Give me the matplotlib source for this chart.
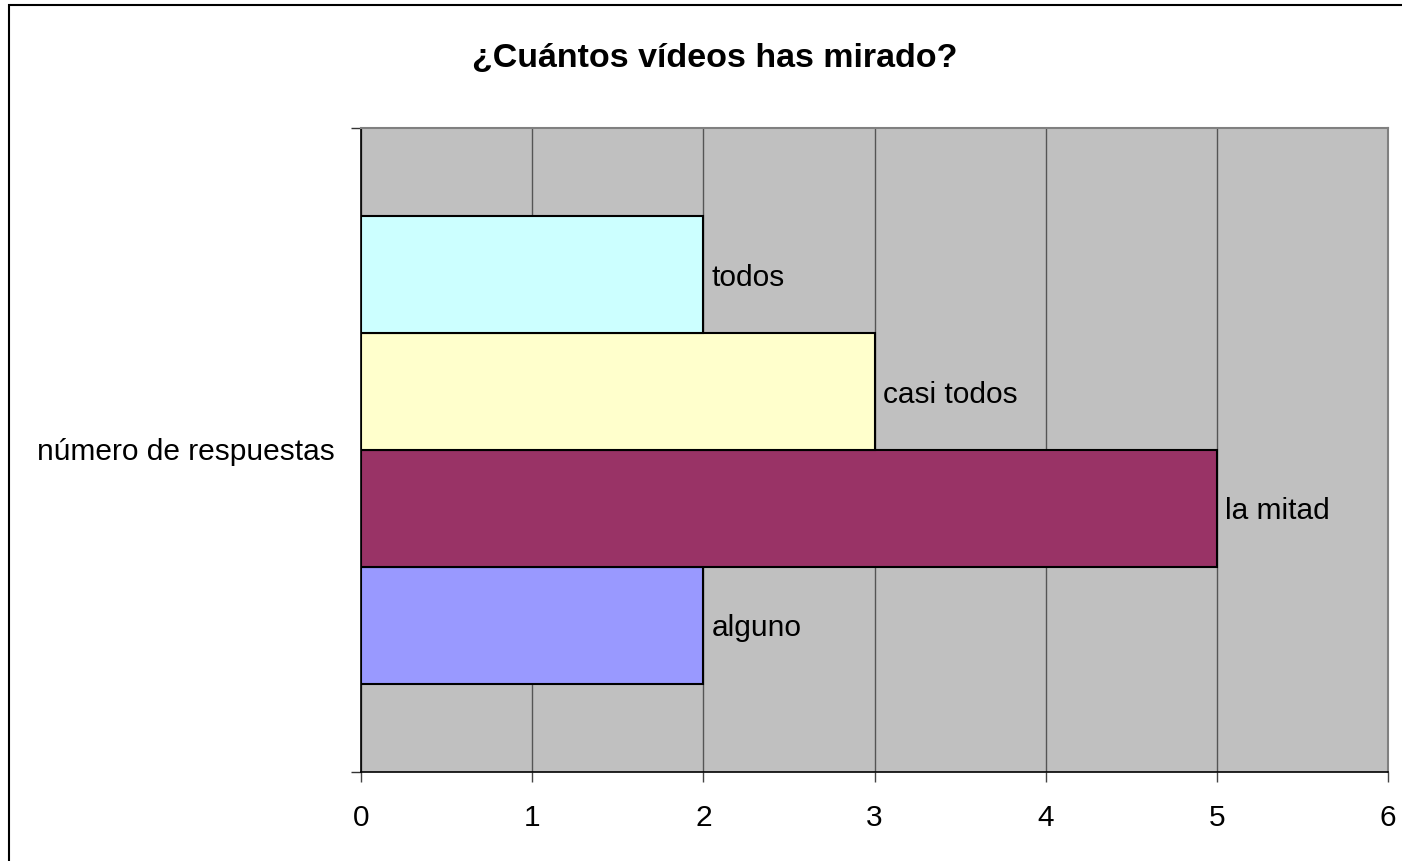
import matplotlib
matplotlib.use("Agg")
import matplotlib.pyplot as plt
from matplotlib.patches import Rectangle

plt.rcParams['font.family'] = ['Liberation Sans', 'DejaVu Sans']

category = "número de respuestas"
series = ["alguno", "la mitad", "casi todos", "todos"]
values = [2, 5, 3, 2]
colors = ["#9999FF", "#993366", "#FFFFCC", "#CCFFFF"]
xticks = [0, 1, 2, 3, 4, 5, 6]
title = "¿Cuántos vídeos has mirado?"

W, H = 1402, 862
fig = plt.figure(figsize=(W / 100, H / 100), dpi=100)
fig.patch.set_facecolor("white")

# outer chart border
fig.patches.append(Rectangle((9 / W, -0.1), 1.2, 1 - 6 / H + 0.1, transform=fig.transFigure,
                             fill=False, edgecolor="black", linewidth=1.5))

ax = fig.add_axes([361 / W, (H - 773) / H, 1027 / W, 644 / H])
ax.set_facecolor("#C0C0C0")
ax.set_xlim(0, 6)
ax.set_ylim(0, 1)

FS = 21.5
h = 0.1813
n = len(series)
for i, (s, v, c) in enumerate(zip(series, values, colors)):
    yc = 0.5 + (i - (n - 1) / 2) * h
    ax.barh(yc, v, height=h, color=c, edgecolor="black", linewidth=1.5, zorder=3)
    ax.text(v + 0.05, yc - 0.003, s, va="center", ha="left", fontsize=FS, zorder=4)

ax.set_xticks(xticks)
ax.set_xticklabels([str(t) for t in xticks], fontsize=FS)
ax.xaxis.grid(True, color="#555555", linewidth=1.0, zorder=1)
ax.set_axisbelow(True)
ax.tick_params(axis="x", direction="out", length=7.2, width=1, color="#444444", pad=15)
ax.set_yticks([0, 1])
ax.set_yticklabels(["", ""])
ax.tick_params(axis="y", direction="out", length=7.2, width=1, color="#333333")

for side in ["top", "right"]:
    ax.spines[side].set_color("#808080")
    ax.spines[side].set_linewidth(1.5)
for side in ["left", "bottom"]:
    ax.spines[side].set_color("black")
    ax.spines[side].set_linewidth(1.2)

fig.text(335 / W, 1 - 452 / H, category, ha="right", va="center", fontsize=FS)
fig.text(715 / W, 1 - 58 / H, title, ha="center", va="center", fontsize=24.5, fontweight="bold")

fig.savefig("out.png", dpi=100)
